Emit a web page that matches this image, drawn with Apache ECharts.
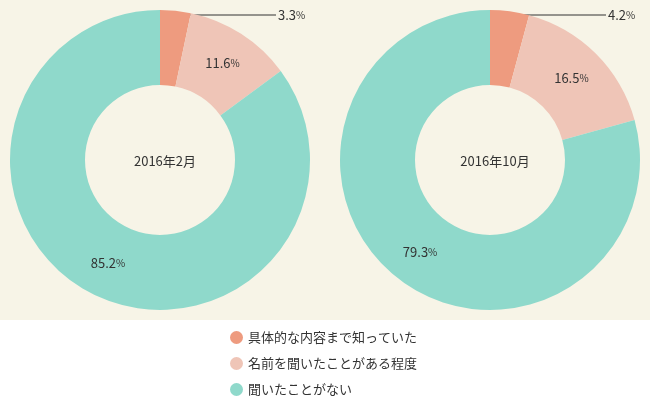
<!DOCTYPE html><html><head><meta charset="utf-8">
<script src="https://cdn.jsdelivr.net/npm/echarts@6/dist/echarts.min.js"></script>
<style>html,body{margin:0;padding:0;background:#fff}#c{width:650px;height:410px}</style></head><body><div id="c"></div>
<script>
const categories=['具体的な内容まで知っていた','名前を聞いたことがある程度','聞いたことがない'];
const feb2016=[3.3,11.6,85.2];
const oct2016=[4.2,16.5,79.3];
const titles=['2016年2月','2016年10月'];
const colors=['#ee9b7f','#efc5b7','#8fd9cb'];
const centers=[160,490];
function mk(vals,i){
  const cx=centers[i];
  return {type:'pie',radius:[75,150],center:[cx,160],startAngle:90,clockwise:true,silent:true,
    data:vals.map((v,k)=>({name:categories[k],value:v,
      label:k===0?{position:'outside'}:{position:'inside'},labelLine:{show:k===0,lineStyle:{color:'#333',width:1}}})),
    label:{formatter:p=>p.value.toFixed(1)+'{p|%}',color:'#333',fontSize:13,fontFamily:'Noto Sans CJK JP',rich:{p:{fontSize:10,color:'#333'}}},
    labelLayout:function(p){ if(p.dataIndex===0){return {x:cx+118,y:15,align:'left',verticalAlign:'middle',labelLinePoints:[[cx+12,15],[cx+116,15],[cx+116,15]]};} return {};},
    emphasis:{disabled:true}};
}
const ch=echarts.init(document.getElementById('c'));
ch.setOption({color:colors,animation:false,
  graphic:[{type:'rect',shape:{x:0,y:0,width:650,height:320},style:{fill:'#f7f4e7'},z:-10}],
  title:titles.map((t,i)=>({text:t,left:centers[i],top:150,textAlign:'center',textStyle:{fontSize:13,fontWeight:'normal',color:'#333',fontFamily:'Noto Sans CJK JP'}})),
  legend:{orient:'vertical',left:225,top:326,itemGap:13,icon:'circle',itemWidth:13,itemHeight:13,data:categories,
    textStyle:{fontSize:13,color:'#333',fontFamily:'Noto Sans CJK JP'}},
  series:[mk(feb2016,0),mk(oct2016,1)]});
</script></body></html>
